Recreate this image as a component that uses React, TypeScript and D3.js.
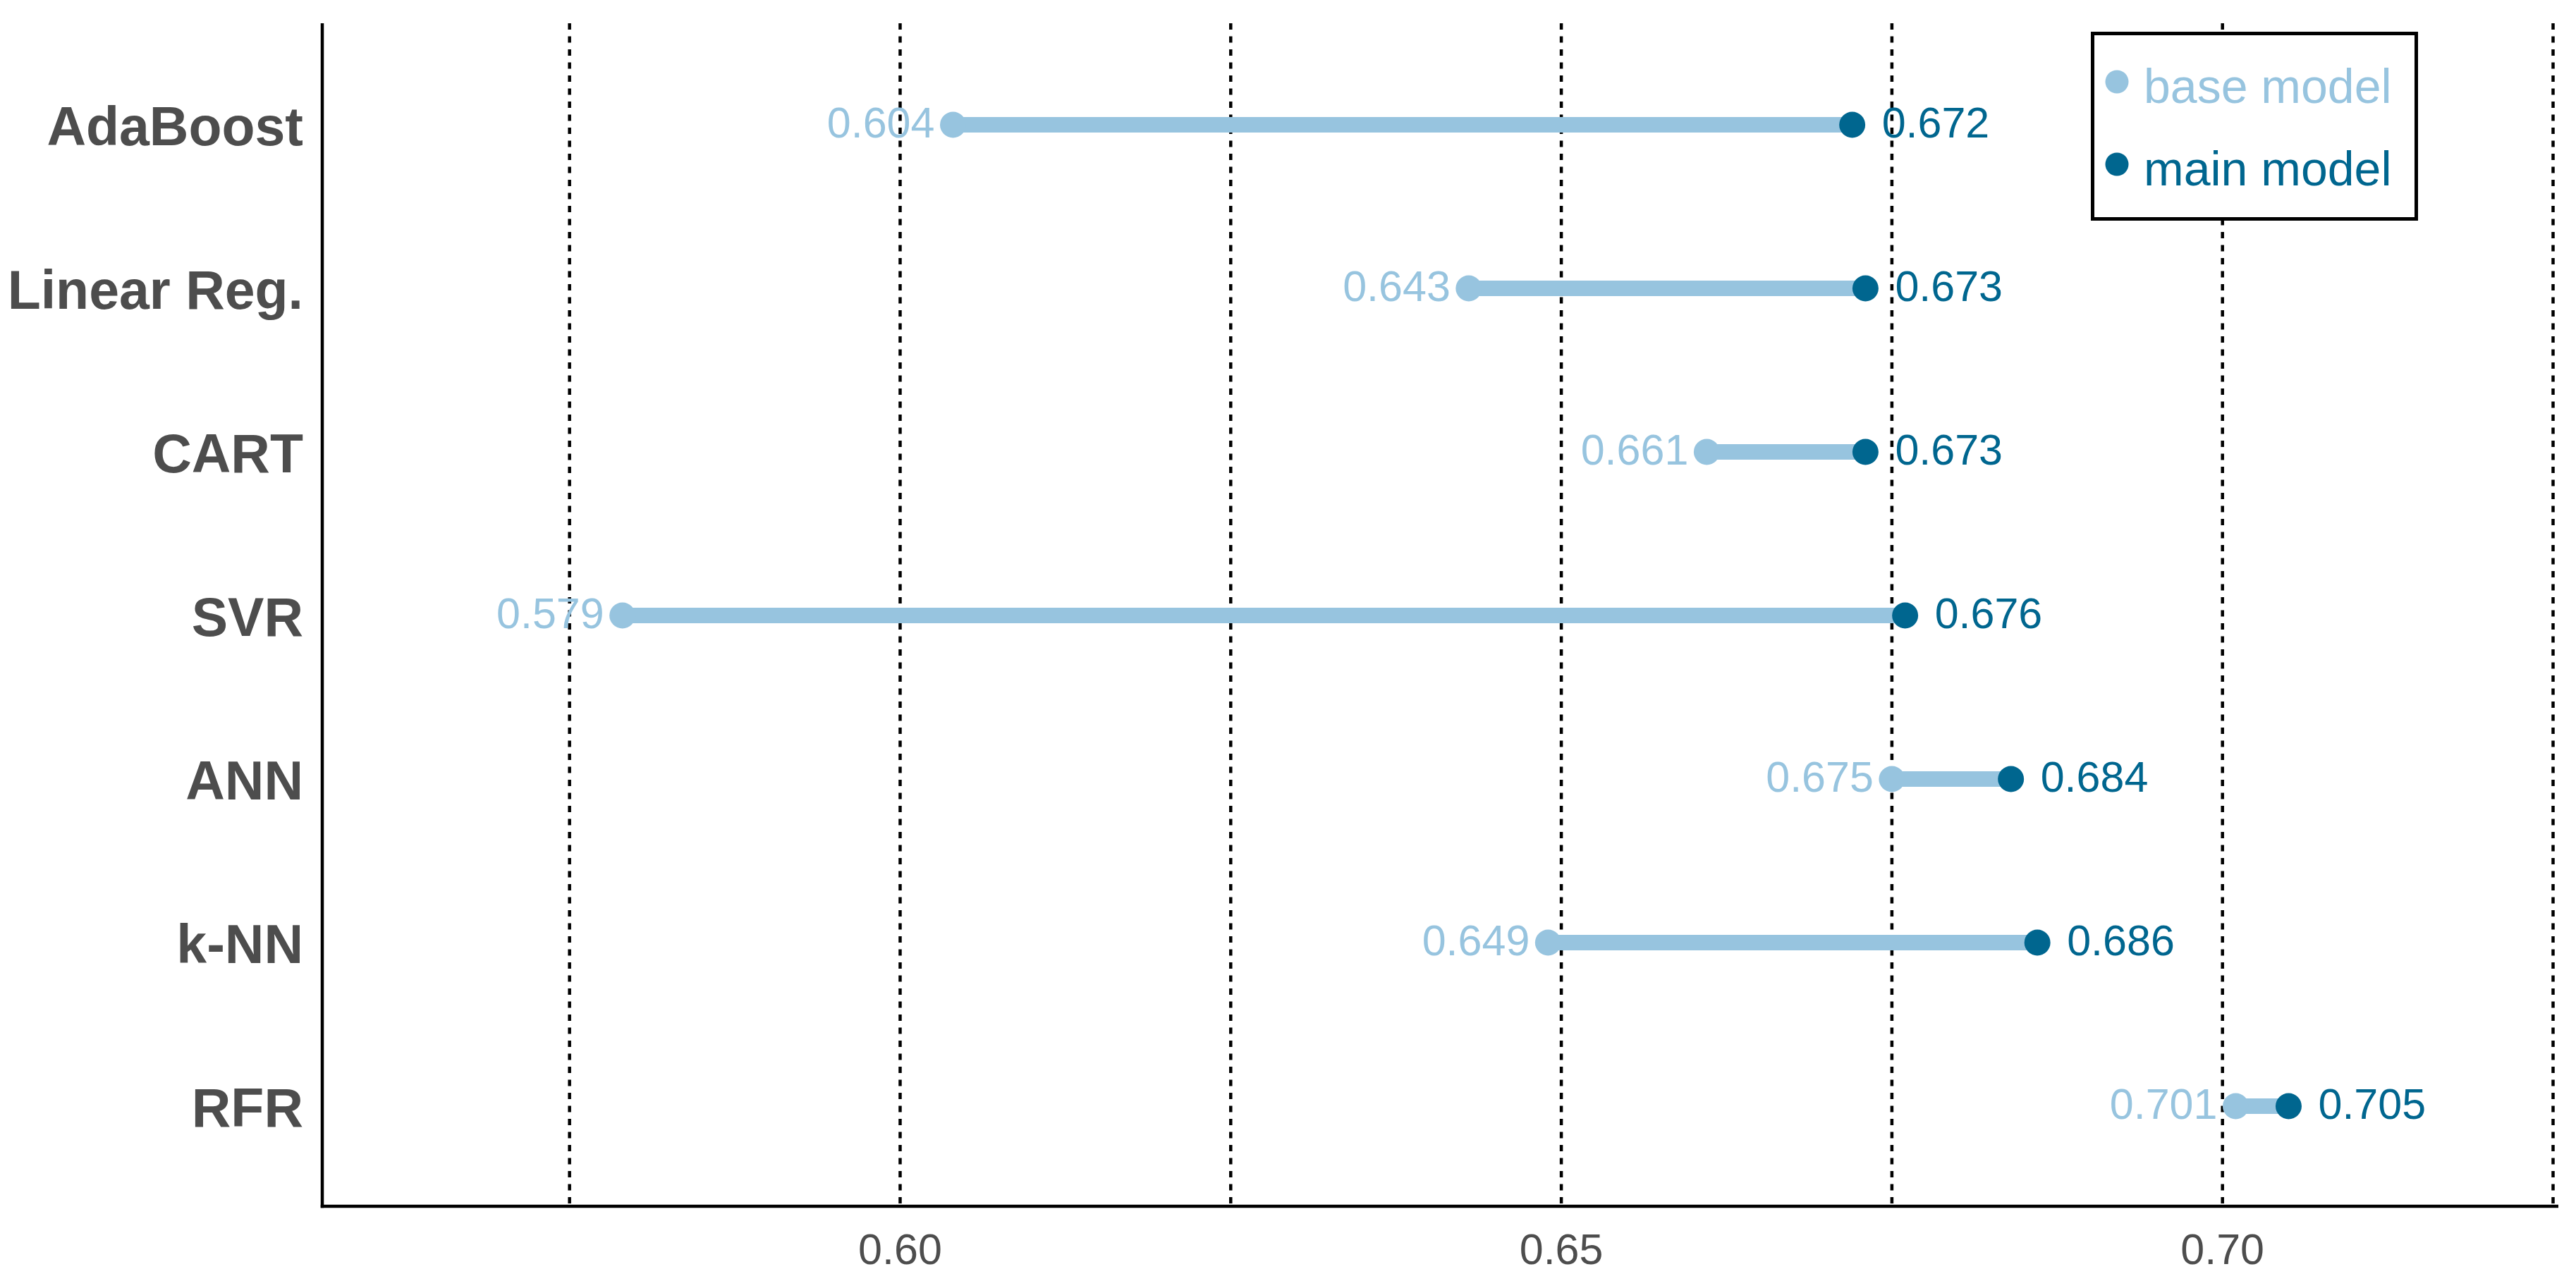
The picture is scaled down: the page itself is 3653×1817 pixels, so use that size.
import React from "react";
import * as d3 from "d3";

const categories = ["AdaBoost", "Linear Reg.", "CART", "SVR", "ANN", "k-NN", "RFR"];
const baseValues = [0.604, 0.643, 0.661, 0.579, 0.675, 0.649, 0.701];
const mainValues = [0.672, 0.673, 0.673, 0.676, 0.684, 0.686, 0.705];
const gridValues = [0.575, 0.6, 0.625, 0.65, 0.675, 0.7, 0.725];
const tickValues = [0.6, 0.65, 0.7];
const legendLabels = ["base model", "main model"];

const W = 3653;
const H = 1817;
const BASE_COLOR = "#97C4DF";
const MAIN_COLOR = "#00668F";
const FONT = "'Liberation Sans', Arial, sans-serif";

export default function App() {
  const plotLeft = 457;
  const plotRight = 3628;
  const plotTop = 33;
  const plotBottom = 1711;

  const x = d3.scaleLinear().domain([0.5563, 0.7254]).range([plotLeft, plotRight]);
  const y = d3.scalePoint<string>().domain(categories).range([177, 1569]);
  const fmt2 = d3.format(".2f");
  const fmt3 = d3.format(".3f");

  const legendColors = [BASE_COLOR, MAIN_COLOR];

  return (
    <svg
      width={W}
      height={H}
      style={{ position: "absolute", left: 0, top: 0, background: "#fff" }}
      fontFamily={FONT}
    >
      <rect x={0} y={0} width={W} height={H} fill="#fff" />
      {/* gridlines */}
      {gridValues.map((g) => (
        <line
          key={"g" + g}
          x1={x(g)}
          x2={x(g)}
          y1={plotTop}
          y2={plotBottom}
          stroke="#000"
          strokeWidth={4.5}
          strokeDasharray="9 9.5"
        />
      ))}
      {/* axes */}
      <line x1={plotLeft} x2={plotLeft} y1={plotTop} y2={plotBottom + 2.25} stroke="#000" strokeWidth={4.5} />
      <line x1={plotLeft - 2.25} x2={plotRight} y1={plotBottom} y2={plotBottom} stroke="#000" strokeWidth={4.5} />
      {/* tick labels */}
      {tickValues.map((t) => (
        <text key={"t" + t} x={x(t)} y={1793} textAnchor="middle" fontSize={61} fill="#4D4D4D">
          {fmt2(t)}
        </text>
      ))}
      {/* category labels */}
      {categories.map((c) => (
        <text key={"c" + c} x={430} y={(y(c) as number) + 29} textAnchor="end" fontSize={77} fontWeight="bold" fill="#4D4D4D">
          {c}
        </text>
      ))}
      {/* segments */}
      {categories.map((c, i) => (
        <line
          key={"s" + c}
          x1={x(baseValues[i])}
          x2={x(mainValues[i])}
          y1={y(c)}
          y2={y(c)}
          stroke={BASE_COLOR}
          strokeWidth={22}
        />
      ))}
      {/* points */}
      {categories.map((c, i) => (
        <g key={"p" + c}>
          <circle cx={x(baseValues[i])} cy={y(c)} r={18.5} fill={BASE_COLOR} />
          <circle cx={x(mainValues[i])} cy={y(c)} r={18.5} fill={MAIN_COLOR} />
        </g>
      ))}
      {/* value labels */}
      {categories.map((c, i) => (
        <g key={"l" + c}>
          <text x={x(baseValues[i]) - 26} y={(y(c) as number) + 18} textAnchor="end" fontSize={61} fill={BASE_COLOR}>
            {fmt3(baseValues[i])}
          </text>
          <text x={x(mainValues[i]) + 42} y={(y(c) as number) + 18} textAnchor="start" fontSize={61} fill={MAIN_COLOR}>
            {fmt3(mainValues[i])}
          </text>
        </g>
      ))}
      {/* legend */}
      <rect x={2967.5} y={47.5} width={459} height={263} fill="#fff" stroke="#000" strokeWidth={5} />
      {legendLabels.map((lab, i) => (
        <g key={"lg" + lab}>
          <circle cx={3002} cy={116 + i * 117} r={16.5} fill={legendColors[i]} />
          <text x={3040} y={146 + i * 117} fontSize={68} fill={legendColors[i]}>
            {lab}
          </text>
        </g>
      ))}
    </svg>
  );
}
